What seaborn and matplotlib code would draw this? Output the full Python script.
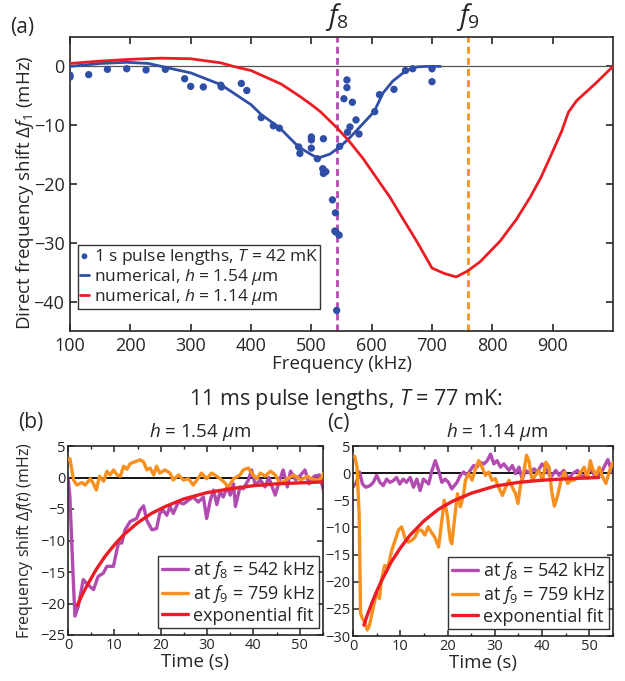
import numpy as np
import pandas as pd
import matplotlib
matplotlib.use("Agg")
import matplotlib.pyplot as plt
from matplotlib.ticker import MultipleLocator
import seaborn as sns

# ---------------- data: panel (a) ----------------
meas_freq = [100, 100, 131, 162, 194, 226, 258, 290, 300, 321, 350, 351, 384, 393,
             417, 437, 447, 479, 481, 500, 500, 500, 510, 520, 519, 520, 524,
             535, 540, 539, 541, 546, 542, 547, 554, 559, 559, 568, 574, 564, 560,
             579, 605, 613, 637, 656, 668, 700, 700]
meas_shift = [-1.5, -1.8, -1.4, -0.5, -0.4, -0.6, -0.5, -2.1, -3.4, -3.5, -3.2, -3.5, -2.9, -4.1,
              -8.7, -10.1, -10.5, -13.7, -14.8, -12.0, -12.5, -13.9, -15.7, -12.3, -17.4, -18.2, -17.9,
              -22.7, -24.9, -28.0, -28.2, -28.7, -41.5, -13.6, -5.5, -2.3, -3.6, -6.1, -9.1, -10.3, -11.2,
              -11.5, -7.7, -4.8, -3.9, -0.7, -0.4, -0.4, -2.6]

num154_freq = [100, 150, 194, 230, 260, 300, 350, 400, 417, 447, 479, 500, 511, 531,
               547, 563, 585, 604, 619, 635, 656, 674, 690, 714]
num154_shift = [0.0, 0.5, 0.7, 0.5, -0.2, -1.1, -3.1, -6.5, -8.2, -10.4, -13.7, -15.0, -15.6, -14.9,
                -13.7, -12.2, -9.8, -7.7, -4.5, -2.5, -0.8, -0.1, 0.0, 0.0]

num114_freq = [100, 150, 200, 250, 300, 350, 371, 400, 450, 481, 500, 515, 542, 561, 586, 611,
               630, 650, 675, 700, 720, 740, 759, 780, 813, 840, 863, 880, 896, 915, 926,
               940, 970, 1000]
num114_shift = [0.5, 0.9, 1.2, 1.4, 1.3, 0.6, 0.0, -0.7, -3.0, -5.1, -6.5, -7.7, -10.4, -12.5, -15.7, -19.4,
                -22.2, -25.6, -29.8, -34.3, -35.2, -35.8, -34.8, -33.2, -29.7, -26.0, -22.2, -19.0, -15.4, -11.0, -7.8,
                -5.8, -3.0, 0.0]

f8_khz = 542
f9_khz = 759

# ---------------- data: panel (b), h = 1.54 um ----------------
b_f8_t = [0, 0.4, 1.2, 1.5, 2.2, 3.3, 4.0, 5.5, 6.5, 7.6, 8.4, 9.8, 10.4, 10.9, 11.6, 12.3, 13.4, 14.8,
          15.5, 16.3, 17.0, 18.1, 19.1, 19.8, 20.5, 21.3, 22.0, 22.7, 23.8, 24.9, 26.0, 27.0, 28.1, 29.2,
          29.9, 30.7, 31.4, 32.1, 32.8, 33.5, 34.3, 35.0, 35.7, 36.1, 37.1, 37.8, 38.9, 39.6, 40.4, 41.5,
          42.5, 43.3, 44.7, 45.4, 46.4, 47.3, 48.0, 49.1, 50.2, 51.1, 52.0, 53.1, 54.2, 55.3]
b_f8_v = [0, -3, -17.3, -22, -20.5, -16.2, -16.8, -17.8, -15.7, -15.2, -14.1, -14.1, -12, -10.4, -10.4, -8.3, -7, -6.5,
          -5.2, -4.5, -6.8, -8.3, -8.1, -5.7, -5.2, -6, -4.6, -5.7, -3.9, -4.2, -3.6, -3.1, -3.9, -3.1,
          -6.5, -3.6, -2, -4.3, -2.3, -3.1, -1.5, -2.8, -1, -4.6, -1.5, -1.8, -0.4, 1.2, -1.2, -0.4,
          -1.5, 0, -2.8, -1, 1.2, -1.5, 1, -0.4, 0.4, 1.2, -1, 0.2, 0.4, -2.5]
b_f9_t = [0, 0.4, 1.2, 1.9, 3.0, 3.7, 4.8, 5.5, 6.1, 6.8, 7.7, 8.4, 9.1, 9.8, 10.6, 11.3, 12.0, 12.7, 13.4,
          14.5, 15.5, 16.3, 17.0, 17.7, 18.5, 19.1, 19.8, 20.9, 22.0, 22.7, 23.8, 24.9, 26.0, 27.0, 27.8,
          28.8, 29.9, 31.0, 32.1, 33.5, 34.6, 35.7, 37.1, 37.8, 38.9, 39.6, 40.7, 41.5, 42.5, 43.7, 44.7,
          45.8, 47.3, 48.7, 50.2, 51.6, 53.1, 54.5, 55.6]
b_f9_v = [2.8, 3, -0.4, -1.2, -0.8, -1.2, -0.2, -1, -2, 0.2, -0.6, 1, 0.4, 1.2, 0.4, 0.2, 1.8, 1.3, 2.2,
          2.5, 2.8, 2.5, 1.2, 1.5, 0.4, 1.8, 0.7, 1.2, 0.7, -0.4, 0.4, -0.4, -0.2, -1.2, -0.4,
          0.7, -0.2, 0.7, 0.2, -0.6, -1.5, -0.2, 0.4, 1.2, 1.5, 0.7, -0.2, 0.7, 0.2, 1, 0.4,
          -1, -0.2, 0.4, -0.4, 0.2, -0.4, -0.2, 1.2]
b_fit_t = [2, 3, 4, 6, 8, 10, 12, 15, 18, 21, 25, 30, 35, 40, 45, 50, 55]
b_fit_v = [-20.3, -18.7, -17.3, -14.7, -12.5, -10.7, -9.1, -7.2, -5.7, -4.6, -3.4, -2.4, -1.8, -1.3, -1.0, -0.85, -0.7]

# ---------------- data: panel (c), h = 1.14 um ----------------
c_f8_t = [0, 0.7, 1.4, 2.0, 2.7, 3.6, 4.3, 5.0, 5.7, 6.4, 7.1, 7.8, 8.5, 9.2, 9.9, 10.6, 11.3, 12.1, 12.8,
          13.5, 14.2, 14.9, 16.0, 16.7, 17.4, 18.1, 18.8, 19.5, 20.2, 20.9, 22.0, 22.7, 23.4, 24.1, 24.8,
          25.5, 26.2, 26.9, 27.7, 28.4, 29.1, 29.8, 30.5, 31.2, 31.9, 33.0, 33.7, 34.4, 35.1, 35.8, 36.5,
          37.6, 38.3, 39.0, 40.0, 41.1, 41.8, 42.9, 43.6, 44.6, 45.7, 46.4, 47.5, 48.5, 49.6, 50.3, 51.3,
          52.4, 53.1, 53.9, 54.8]
c_f8_v = [-2.6, -1.7, 0.2, -2, -2.6, -2.3, -1.7, -0.4, -1.7, -2.3, -1.1, -1.7, -1.4, -0.8, -2, -1.1, -1.7, -0.8, -2.6,
          -1.1, -3.2, -1.1, -2, 0.5, 2.3, 0.5, -1.7, -1.1, -1.7, -2.9, -1.7, -0.4, 0.2, -0.4, 0.5,
          1.4, 1.1, 2, 1.7, 2.3, 3.5, 1.7, 2.3, 1.1, 1.7, 0.5, 1.4, -0.1, 1.1, -1.1, 0.5,
          -0.1, 0.8, 0.2, 1.7, 0.5, -0.8, 0.5, -0.4, 0.5, -1.1, -0.1, 0.5, -0.8, 0.2, 0.8, -0.8,
          -0.1, 1.1, 2.5, 0.2]
c_f9_t = [0.35, 0.85, 1.3, 1.6, 2.0, 2.5, 3.0, 3.5, 4.3, 5.0, 5.6, 6.0, 6.7, 7.4, 8.2, 8.9, 9.6, 10.3, 11.0,
          11.7, 12.4, 13.1, 13.8, 14.5, 15.2, 15.9, 16.6, 17.3, 18.1, 18.8, 19.3, 19.9, 20.6, 20.9, 21.6,
          22.1, 22.7, 23.3, 23.8, 24.5, 25.2, 25.9, 26.6, 27.3, 28.0, 28.7, 29.4, 30.1, 30.8, 31.6, 32.3,
          33.0, 33.7, 34.4, 34.9, 35.5, 36.2, 36.7, 37.2, 37.9, 38.6, 39.3, 40.1, 40.8, 41.5, 42.0, 42.6,
          43.3, 44.0, 44.7, 45.4, 46.1, 46.8, 47.5, 48.2, 48.9, 49.6, 50.2, 50.7, 51.4, 52.1, 52.8, 53.5,
          54.3, 55.0]
c_f9_v = [3.1, 1.1, -7.5, -25.8, -26.8, -27.4, -28.9, -28, -24.6, -22.2, -23.1, -19.7, -17, -17.3, -14.2, -12.4, -10.5, -9.9, -12,
          -12.7, -12.4, -11.8, -10.5, -10.5, -11.4, -9.9, -10.9, -11.8, -13.6, -8.7, -5, -7.5, -12.4, -13, -7.5,
          -3.8, -6.2, -4.4, -1.3, -0.1, -1.3, 0.8, 2.3, 1.1, -0.4, 0.2, -1.3, -1.0, -2.6, -4.1, -2.6,
          -1.3, -2.6, -3.8, -5.6, -1.9, 0.5, 3.3, 2.3, -1.3, -0.4, 0.5, -1.3, 2, 1.1, -3.2, -6.1,
          -4.1, -1.3, 0.2, -1.9, -1.3, -1.3, -0.7, 0.2, 1.1, -1.0, 2.3, 0.8, -0.4, 1.1, -0.7, -1.9,
          0.5, 2]
c_fit_t = [2.3, 3, 4, 5, 6, 8, 10, 12, 15, 18, 21, 25, 30, 35, 40, 45, 52]
c_fit_v = [-28.0, -26.2, -23.9, -21.8, -19.9, -16.5, -13.8, -11.5, -8.8, -6.7, -5.2, -3.7, -2.4, -1.7, -1.3, -1.05, -0.8]

# ---------------- styling ----------------
sns.set_theme(style="ticks")
plt.rcParams["font.family"] = ["Open Sans", "DejaVu Sans"]
plt.rcParams["mathtext.fontset"] = "custom"
plt.rcParams["mathtext.it"] = "Open Sans:italic"
plt.rcParams["mathtext.rm"] = "Open Sans"
plt.rcParams["axes.linewidth"] = 1.2

BLUE = "#2f4fa6"
RED = "#ec1c24"
PURPLE = "#b24bb0"
ORANGE = "#f7901e"

W, H = 625, 681
fig = plt.figure(figsize=(W / 100, H / 100), dpi=100)


def box(l, t, r, b):
    return [l / W, 1 - b / H, (r - l) / W, (b - t) / H]


# ---------------- panel (a) ----------------
ax = fig.add_axes(box(70, 37, 613, 331))
ax.axhline(0, color="#555555", lw=0.9, zorder=1)
ax.axvline(f8_khz, color=PURPLE, lw=2, ls=(0, (2.5, 1.5)), zorder=2)
ax.axvline(f9_khz, color=ORANGE, lw=2, ls=(0, (2.5, 1.5)), zorder=2)
sns.scatterplot(x=meas_freq, y=meas_shift, ax=ax, color=BLUE, s=28, edgecolor="none",
                label="1 s pulse lengths, $T$ = 42 mK", zorder=4)
sns.lineplot(x=num154_freq, y=num154_shift, ax=ax, color=BLUE, lw=2, sort=False, estimator=None,
             label="numerical, $h$ = 1.54 $\\mu$m", zorder=3)
sns.lineplot(x=num114_freq, y=num114_shift, ax=ax, color=RED, lw=2, sort=False, estimator=None,
             label="numerical, $h$ = 1.14 $\\mu$m", zorder=3)
ax.set_xlim(100, 1000)
ax.set_ylim(-45, 5)
ax.set_xticks(range(100, 1000, 100))
ax.set_yticks([0, -10, -20, -30, -40])
ax.tick_params(direction="in", top=True, right=True, length=5, width=1.2, labelsize=13, pad=4)
ax.set_xlabel("Frequency (kHz)", fontsize=13.5, labelpad=0)
ax.set_ylabel("Direct frequency shift $\\Delta f_1$ (mHz)", fontsize=13.5, labelpad=2)
ax.yaxis.set_label_coords(-0.062, 0.47)
leg = ax.legend(loc="lower left", bbox_to_anchor=(0.014, 0.075), fontsize=12.5, frameon=True,
                fancybox=False, edgecolor="black", handlelength=0.55, handletextpad=0.25,
                borderpad=0.12, labelspacing=0.0, borderaxespad=0, markerscale=0.8)
leg.get_frame().set_linewidth(1.0)
ax.text(f8_khz, 5.6, "$f_8$", ha="center", va="bottom", fontsize=20)
ax.text(f9_khz, 5.6, "$f_9$", ha="center", va="bottom", fontsize=20)
fig.text(10 / W, 1 - 28 / H, "(a)", fontsize=15, va="center", ha="left")

# ---------------- bottom panels ----------------
fig.text(346 / W, 1 - 400 / H, "11 ms pulse lengths, $T$ = 77 mK:", fontsize=15.5,
         ha="center", va="center")
fig.text(18 / W, 1 - 422 / H, "(b)", fontsize=15, va="center")
fig.text(327 / W, 1 - 424 / H, "(c)", fontsize=15, va="center")


def time_panel(rect, f8t, f8v, f9t, f9v, fitt, fitv, ylim, yticks, title, title_x):
    a = fig.add_axes(rect)
    a.axhline(0, color="black", lw=1.3, zorder=1)
    sns.lineplot(x=f8t, y=f8v, ax=a, color=PURPLE, lw=2.4, sort=False, estimator=None,
                 label="at $f_8$ = 542 kHz", zorder=2)
    sns.lineplot(x=f9t, y=f9v, ax=a, color=ORANGE, lw=2.4, sort=False, estimator=None,
                 label="at $f_9$ = 759 kHz", zorder=3)
    sns.lineplot(x=fitt, y=fitv, ax=a, color=RED, lw=2.4, sort=False, estimator=None,
                 label="exponential fit", zorder=4)
    a.set_xlim(0, 55)
    a.set_ylim(*ylim)
    a.set_yticks(yticks)
    a.set_xticks(range(0, 55, 10))
    a.xaxis.set_minor_locator(MultipleLocator(5))
    a.tick_params(direction="in", top=True, right=True, length=4, width=1.1, labelsize=10.5, pad=2)
    a.tick_params(which="minor", direction="in", top=True, length=2.5, width=1.0)
    a.set_xlabel("Time (s)", fontsize=13.5, labelpad=0)
    a.set_ylabel("")
    lg = a.legend(loc="lower right", bbox_to_anchor=(0.985, 0.035), fontsize=13, frameon=True,
                  fancybox=False, edgecolor="black", handlelength=1.45, handletextpad=0.3,
                  borderpad=0.2, labelspacing=0.1, borderaxespad=0)
    lg.get_frame().set_linewidth(1.0)
    fig.text(title_x / W, 1 - 432 / H, title, fontsize=13.5, ha="center", va="center")
    return a


axb = time_panel(box(68, 446, 323, 635), b_f8_t, b_f8_v, b_f9_t, b_f9_v, b_fit_t, b_fit_v,
                 (-25, 5), [5, 0, -5, -10, -15, -20, -25], "$h$ = 1.54 $\\mu$m", 200)
axb.set_ylabel("Frequency shift $\\Delta f(t)$ (mHz)", fontsize=11.5, labelpad=1)
axb.yaxis.set_label_coords(-0.13, 0.5)
axc = time_panel(box(353, 446, 613, 636), c_f8_t, c_f8_v, c_f9_t, c_f9_v, c_fit_t, c_fit_v,
                 (-30, 5), [5, 0, -5, -10, -15, -20, -25, -30], "$h$ = 1.14 $\\mu$m", 497)

fig.savefig("out.png", dpi=100)
